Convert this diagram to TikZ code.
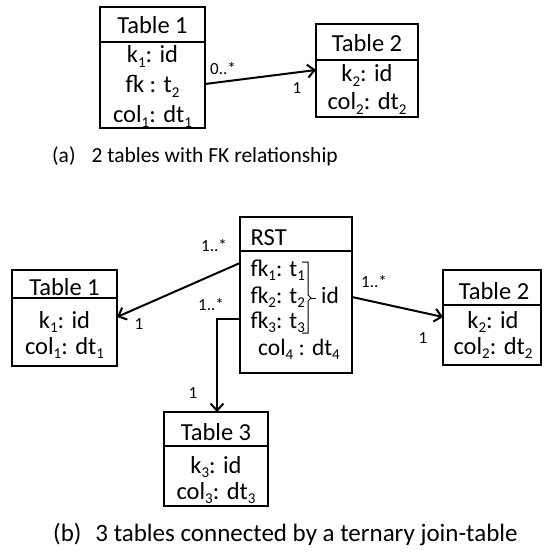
\documentclass[tikz,border=0pt]{standalone}
\usepackage{fontspec}
\setmainfont{Carlito}
\usetikzlibrary{arrows.meta}
\newcommand\sbx[1]{\raisebox{-0.2em}{\fontsize{15}{15}\selectfont #1}}
\begin{document}
\begin{tikzpicture}[x=1pt,y=-1pt,
  tbox/.style={draw, line width=2.2pt, anchor=north west, inner sep=0pt, outer sep=0pt},
  divider/.style={line width=2.2pt},
  ttext/.style={font=\fontsize{24.5}{28}\selectfont, anchor=base, inner sep=0pt},
  ltext/.style={font=\fontsize{23.5}{28}\selectfont, anchor=base west, inner sep=0pt},
  mult/.style={font=\fontsize{17}{18}\selectfont, inner sep=0pt},
  capt/.style={font=\fontsize{21.5}{24}\selectfont, anchor=base west, inner sep=0pt},
  conn/.style={line width=2pt, -{Straight Barb[length=7pt,width=13pt]}}]
\useasboundingbox (0,0) rectangle (545,556);

% ---------- panel (a) ----------
\node[tbox, minimum width=105pt, minimum height=121pt] (aT1) at (100,7) {};
\draw[divider] ([yshift=-35pt]aT1.north west) -- ([yshift=-35pt]aT1.north east);
\node[ttext] (aT1h) at (152.5,34) {Table 1};
\node[ttext] (aT1r1) at (152.5,63) {k\sbx{1}: id};
\node[ttext] (aT1r2) at (152.5,93) {fk : t\sbx{2}};
\node[ttext] (aT1r3) at (152.5,123) {col\sbx{1}: dt\sbx{1}};

\node[tbox, minimum width=102pt, minimum height=93pt] (aT2) at (316,24) {};
\draw[divider] ([yshift=-36pt]aT2.north west) -- ([yshift=-36pt]aT2.north east);
\node[ttext] (aT2h) at (367,52) {Table 2};
\node[ttext] (aT2r1) at (367,82) {k\sbx{2}: id};
\node[ttext] (aT2r2) at (367,110) {col\sbx{2}: dt\sbx{2}};

\draw[conn] ([yshift=-77pt]aT1.north east) -- ([yshift=-46pt]aT2.north west);
\node[mult] (am1) at (223,69) {0..*};
\node[mult] (am2) at (297,88) {1};

\node[capt] (capa) at (52,163) {(a)\hspace{16pt}2 tables with FK relationship};

% ---------- panel (b) ----------
\node[tbox, minimum width=112pt, minimum height=156pt] (rst) at (240,217) {};
\draw[divider] ([yshift=-34pt]rst.north west) -- ([yshift=-34pt]rst.north east);
\node[ltext, font=\fontsize{24.5}{28}\selectfont] (rsth) at (250.5,245) {RST};
\node[ltext] (rstr1) at (250.5,276) {fk\sbx{1}: t\sbx{1}};
\node[ltext] (rstr2) at (250.5,303) {fk\sbx{2}: t\sbx{2}};
\node[ltext] (rstr3) at (250.5,328) {fk\sbx{3}: t\sbx{3}};
\node[ltext] (rstr4) at (258,355) {col\sbx{4} : dt\sbx{4}};
\draw[line width=1pt] (302,262) -- (308,262) -- (308,295) -- (311,298) -- (308,301) -- (308,333) -- (302,333);
\draw[line width=1pt] (311,298) -- (316,298);
\node[ltext] (rstid) at (321,303) {id};

\node[tbox, minimum width=105pt, minimum height=96pt] (bT1) at (12,270) {};
\draw[divider] ([yshift=-28pt]bT1.north west) -- ([yshift=-28pt]bT1.north east);
\node[ttext] (bT1h) at (64.5,295) {Table 1};
\node[ttext] (bT1r1) at (64.5,328) {k\sbx{1}: id};
\node[ttext] (bT1r2) at (64.5,354) {col\sbx{1}: dt\sbx{1}};

\node[tbox, minimum width=98pt, minimum height=95pt] (bT2) at (443,270) {};
\draw[divider] ([yshift=-35pt]bT2.north west) -- ([yshift=-35pt]bT2.north east);
\node[ttext] (bT2h) at (494,299) {Table 2};
\node[ttext] (bT2r1) at (493,328) {k\sbx{2}: id};
\node[ttext] (bT2r2) at (493,354) {col\sbx{2}: dt\sbx{2}};

\node[tbox, minimum width=104pt, minimum height=94pt] (bT3) at (164,412) {};
\draw[divider] ([yshift=-34pt]bT3.north west) -- ([yshift=-34pt]bT3.north east);
\node[ttext] (bT3h) at (216,440) {Table 3};
\node[ttext] (bT3r1) at (216,473) {k\sbx{3}: id};
\node[ttext] (bT3r2) at (216,499) {col\sbx{3}: dt\sbx{3}};

\draw[conn] ([yshift=-46pt]rst.north west) -- ([yshift=-47pt]bT1.north east);
\draw[conn] ([yshift=-80pt]rst.north east) -- ([yshift=-47pt]bT2.north west);
\draw[conn] ([yshift=-102pt]rst.north west) -| ([xshift=53pt]bT3.north west);

\node[mult] (bm1) at (214,246) {1..*};
\node[mult] (bm2) at (139,324) {1};
\node[mult] (bm3) at (211,305) {1..*};
\node[mult] (bm4) at (193,393) {1};
\node[mult] (bm5) at (374,282) {1..*};
\node[mult] (bm6) at (423,338) {1};

\node[capt, font=\fontsize{25}{28}\selectfont] (capb) at (53,541) {(b)\hspace{14pt}3 tables connected by a ternary join-table};
\end{tikzpicture}
\end{document}
